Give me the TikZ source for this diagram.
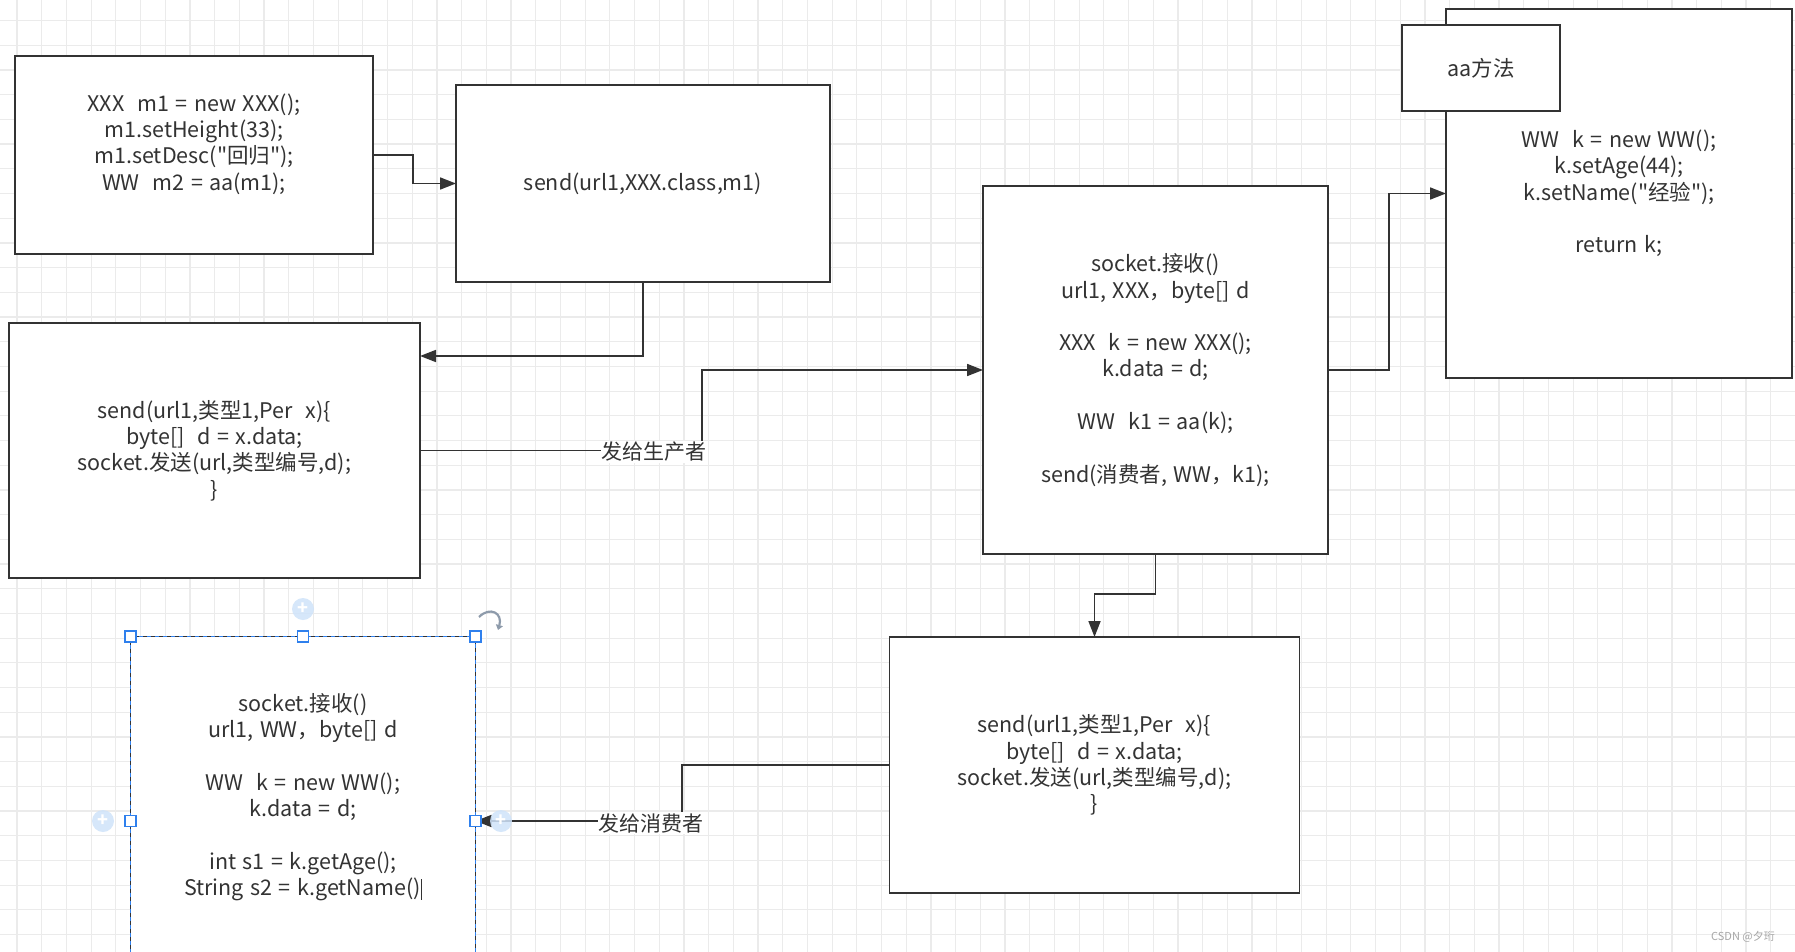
\documentclass[tikz,border=0pt]{standalone}
\usepackage{fontspec}
\setmainfont{Noto Sans CJK SC}[Ligatures=TeXOff]
\usetikzlibrary{arrows.meta}
\definecolor{gridgray}{HTML}{EBEBEB}
\definecolor{inkgray}{HTML}{333333}
\definecolor{selblue}{HTML}{2F80ED}
\definecolor{plusblue}{HTML}{CFE3FA}
\definecolor{rotgray}{HTML}{8E9BAB}
\newcommand\widespace{\spaceskip=0.3em\relax}
\tikzset{
  codebox/.style={draw=inkgray, fill=white, line width=1.8pt, inner sep=0pt, outer sep=0pt,
    align=center, text=inkgray, font=\fontsize{21.5}{26.3}\selectfont\widespace},
  edgelbl/.style={fill=white, text=inkgray, inner sep=1pt, font=\fontsize{21}{24}\selectfont},
  arr/.style={draw=inkgray, line width=1.7pt, -{Triangle[length=16pt,width=12pt]}},
  handle/.style={draw=selblue, fill=white, line width=1.3pt, minimum size=11pt, inner sep=0pt},
  plusdot/.style={circle, fill=plusblue, fill opacity=0.85, text opacity=1, text=white,
    minimum size=22pt, inner sep=0pt, font=\fontsize{18}{18}\selectfont\bfseries},
}
\begin{document}
\begin{tikzpicture}[x=1pt,y=-1pt]
\useasboundingbox (0,0) rectangle (1795,952);
\clip (0,0) rectangle (1795,952);
\fill[white] (0,0) rectangle (1795,952);
% grid
\foreach \i in {0,...,72}
\draw[gridgray, line width=1.2pt] ({17+24.7*\i},0) -- ({17+24.7*\i},952);
\foreach \j in {0,...,38}
\draw[gridgray, line width=1.2pt] (0,{20.6+24.7*\j}) -- (1795,{20.6+24.7*\j});

% boxes
\node[codebox, minimum width=358pt, minimum height=198pt] (newA) at (194,155)
  {XXX\ \ m1 = new XXX();\\ m1.setHeight(33);\\ m1.setDesc("回归");\\ WW\ \ m2 = aa(m1);\\ \mbox{}};
\node[codebox, minimum width=374pt, minimum height=197pt] (sendB) at (643,183.5)
  {send(url1,XXX.class,m1)};
\node[codebox, minimum width=411pt, minimum height=255pt] (sendC) at (214.5,450.5)
  {send(url1,类型1,Per\ \ x)\{\\ byte[]\ \ d = x.data;\\ socket.发送(url,类型编号,d);\\ \}};
\node[codebox, minimum width=345pt, minimum height=368pt] (recvD) at (1155.5,370)
  {socket.接收()\\ url1, XXX，byte[] d\\ \mbox{}\\ XXX\ \ k = new XXX();\\ k.data = d;\\ \mbox{}\\
   WW\ \ k1 = aa(k);\\ \mbox{}\\ send(消费者, WW，k1);};
\node[codebox, minimum width=346pt, minimum height=369pt] (aaE) at (1619,193.5)
  {WW\ \ k = new WW();\\ k.setAge(44);\\ k.setName("经验");\\ \mbox{}\\ return k;};
\node[codebox, minimum width=158pt, minimum height=86pt] (aaF) at (1481,68) {aa方法};
\node[codebox, minimum width=345pt, minimum height=369pt] (recvG) at (303,821)
  {socket.接收()\\ url1, WW，byte[] d\\ \mbox{}\\ WW\ \ k = new WW();\\ k.data = d;\\ \mbox{}\\
   int s1 = k.getAge();\\ String s2 = k.getName()\rule[-4pt]{1pt}{21pt}\\ \mbox{}\\ \mbox{}};
\node[codebox, minimum width=410pt, minimum height=256pt] (sendH) at (1094.5,765)
  {send(url1,类型1,Per\ \ x)\{\\ byte[]\ \ d = x.data;\\ socket.发送(url,类型编号,d);\\ \}};

% connectors
\draw[arr] (newA.east) -- ++(40,0) |- (sendB.west);
\draw[arr] (sendB.south) |- ([yshift=94.5pt]sendC.east);
\draw[arr] (sendC.east) -- ++(282,0) |- (recvD.west);
\node[edgelbl] (toprod) at (654,452) {发给生产者};
\draw[arr] (recvD.east) -- ++(61,0) |- (aaE.west);
\draw[arr] (recvD.south) -- ++(0,40) -| (sendH.north);
\draw[arr] (sendH.west) -- ++(-207.5,0) |- (recvG.east);
\node[edgelbl] (tocons) at (651,823) {发给消费者};

% selection of the lower left box
\draw[selblue, line width=1.2pt, dash pattern=on 4pt off 4pt] (recvG.north west) rectangle (recvG.south east);
\node[handle] (hnw) at (recvG.north west) {};
\node[handle] (hn) at (recvG.north) {};
\node[handle] (hne) at (recvG.north east) {};
\node[handle] (hw) at (recvG.west) {};
\node[handle] (he) at (recvG.east) {};
\node[plusdot] (plustop) at (303,609) {+};
\node[plusdot] (plusleft) at (103,821) {+};
\node[plusdot] (plusright) at (501,821) {+};
\draw[rotgray, line width=2.2pt, -{Triangle[length=5pt,width=7pt]}]
  (479,617) .. controls (490,606) and (503,613) .. (498,630);

\node[text=gray!70, font=\fontsize{11}{13}\selectfont] (mark) at (1743,937) {CSDN @夕珩};
\end{tikzpicture}
\end{document}
